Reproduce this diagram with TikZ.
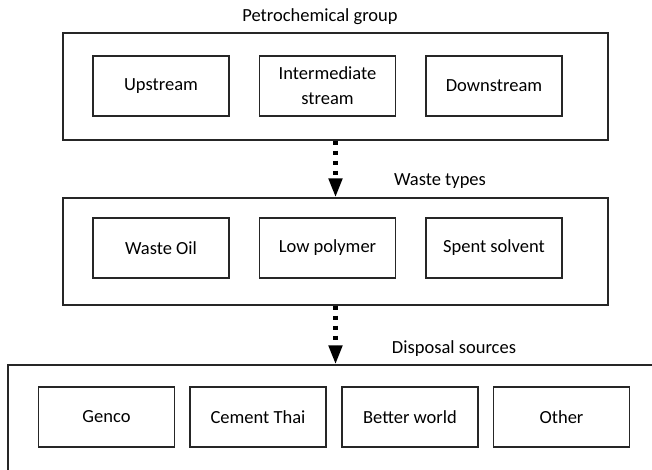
\documentclass[tikz,border=0pt]{standalone}
\usepackage{fontspec}
\setmainfont{Carlito}
\usepackage{tikz}
\usetikzlibrary{arrows.meta}
\tikzset{
  group/.style={draw=black!85, line width=1.2pt, inner sep=0pt},
  item/.style={draw=black!85, line width=1.5pt, minimum width=136pt, minimum height=60pt, align=center, inner sep=0pt},
  caption/.style={inner sep=0pt},
  flowarrow/.style={line width=4.5pt, dash pattern=on 4.5pt off 5.5pt, -{Triangle[length=19pt,width=13pt]}}
}
\newcommand{\itembox}[4]{\node[item] (#1) at ( #2 , #3 ) {#4};}

\begin{document}
\begin{tikzpicture}[x=1pt, y=-1pt, font=\fontsize{18.5}{25}\selectfont]
        \useasboundingbox (0,0) rectangle (652,470);
        \clip (0,0) rectangle (652,470);

        %group boxes
        \node[group, minimum width=545pt, minimum height=107pt] (petro) at (335.5,86.5) {};
        \node[group, minimum width=545pt, minimum height=107pt] (waste) at (335.5,251.5) {};
        \node[group, minimum width=692pt, minimum height=155pt] (disposal) at (354,442.5) {};

        %titles
        \node[caption] (petrotitle) at (320,17) {Petrochemical group};
        \node[caption] (wastetitle) at (440,181) {Waste types};
        \node[caption] (disposaltitle) at (454,349) {Disposal sources};

        %streams
        \itembox{up}{161}{86}{Upstream}
        \itembox{mid}{327.5}{86}{Intermediate\\stream}
        \itembox{down}{494}{86}{Downstream}

        %waste types
        \itembox{oil}{161}{248}{Waste Oil}
        \itembox{poly}{327.5}{248}{Low polymer}
        \itembox{solv}{494}{248}{Spent solvent}

        %disposal sources
        \itembox{genco}{106.5}{417}{Genco}
        \itembox{cement}{258}{417}{Cement Thai}
        \itembox{better}{410}{417}{Better world}
        \itembox{other}{561.5}{417}{Other}

        %arrows
        \draw[flowarrow] (petro.south) -- (waste.north);
        \draw[flowarrow] (waste.south) -- (waste.south |- disposal.north);
\end{tikzpicture}
\end{document}
